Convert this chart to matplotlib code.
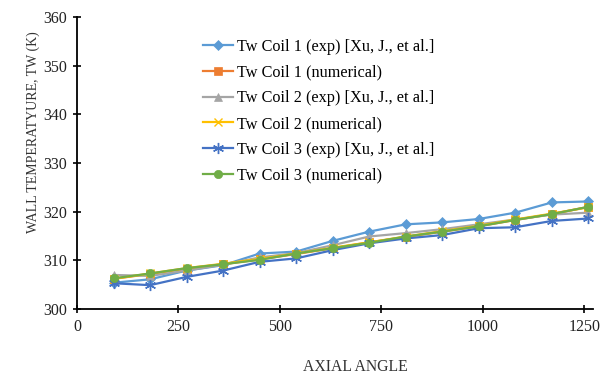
import matplotlib
matplotlib.use('Agg')
matplotlib.rcParams.update({'font.family': 'Liberation Serif', 'font.size': 11})
import matplotlib.pyplot as plt

# axial angle positions
angle = [90, 180, 270, 360, 450, 540, 630, 720, 810, 900, 990, 1080, 1170, 1260]

# wall temperatures (K)
coil1_exp = [305.4, 306.1, 307.9, 309.0, 311.4, 311.8, 314.0, 315.9, 317.4, 317.8, 318.5, 319.8, 321.9, 322.1]
coil1_num = [306.2, 307.2, 308.3, 309.2, 310.2, 311.3, 312.5, 313.7, 314.8, 315.9, 317.0, 318.3, 319.5, 321.0]
coil2_exp = [307.0, 306.8, 307.9, 309.1, 310.6, 311.5, 313.1, 314.9, 315.6, 316.4, 317.4, 318.4, 319.4, 319.8]
coil2_num = [306.2, 307.3, 308.4, 309.3, 310.3, 311.4, 312.6, 313.7, 314.9, 316.0, 317.1, 318.4, 319.6, 320.9]
coil3_exp = [305.3, 304.9, 306.6, 307.9, 309.7, 310.4, 312.1, 313.5, 314.5, 315.2, 316.6, 316.8, 318.1, 318.6]
coil3_num = [306.3, 307.3, 308.4, 309.2, 310.1, 311.4, 312.5, 313.6, 314.9, 315.9, 317.0, 318.3, 319.5, 321.0]

labels = ['Tw Coil 1 (exp) [Xu, J., et al.]', 'Tw Coil 1 (numerical)',
          'Tw Coil 2 (exp) [Xu, J., et al.]', 'Tw Coil 2 (numerical)',
          'Tw Coil 3 (exp) [Xu, J., et al.]', 'Tw Coil 3 (numerical)']
colors = ['#5B9BD5', '#ED7D31', '#A5A5A5', '#FFC000', '#4472C4', '#70AD47']
markers = ['D', 's', '^', 'x', (6, 2, 0), 'o']
sizes = [5, 6, 6, 6, 8, 6]

fig = plt.figure(figsize=(6.11, 3.78), dpi=100)
ax = fig.add_axes([0.126, 0.1825, 0.845, 0.7725])

series = [coil1_exp, coil1_num, coil2_exp, coil2_num, coil3_exp, coil3_num]
for s, lab, c, m, ms in zip(series, labels, colors, markers, sizes):
    ax.plot(angle, s, color=c, marker=m, markersize=ms, linewidth=1.6, label=lab,
            markeredgewidth=1.0 if m in ('x', (6, 2, 0)) else 0.5)

ax.set_xlim(0, 1272)
ax.set_ylim(300, 360)
ax.set_xticks([0, 250, 500, 750, 1000, 1250])
ax.set_yticks(range(300, 361, 10))
ax.spines['top'].set_visible(False)
ax.spines['right'].set_visible(False)
ax.spines['left'].set_linewidth(1.3)
ax.spines['bottom'].set_linewidth(1.3)
ax.tick_params(direction='inout', length=6, width=1.2, labelsize=11.5, pad=4, labelcolor='#222222')

fig.text(0.054, 0.65, 'WALL TEMPERATYURE, TW (K)', rotation=90, ha='center', va='center',
         fontsize=10, color='#333333')
fig.text(0.581, 0.029, 'AXIAL ANGLE', ha='center', va='center', fontsize=11.3, color='#333333')

ax.legend(loc='upper left', bbox_to_anchor=(0.245, 0.925), frameon=False, fontsize=11.7,
          handlelength=1.8, handletextpad=0.25, labelspacing=0.6, borderaxespad=0,
          borderpad=0)

plt.savefig('out.png', dpi=100)
